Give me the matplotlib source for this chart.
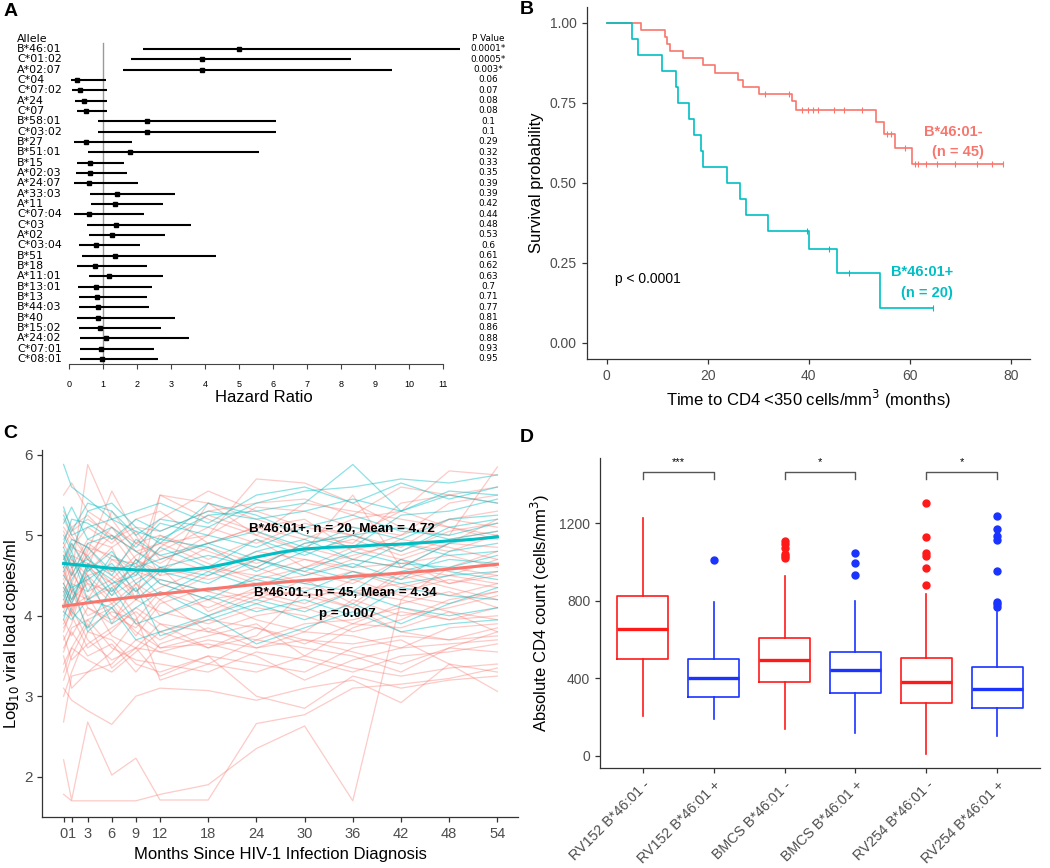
import matplotlib
matplotlib.use("Agg")
import matplotlib.pyplot as plt
import numpy as np

plt.rcParams['font.family'] = ['Liberation Sans', 'DejaVu Sans']

W, H = 1050, 868
RED_GG = "#F8766D"
TEAL_GG = "#00BFC4"
AX_COL = "#333333"
TICK_TXT = "#4D4D4D"

# ---------------- panel A: hazard ratios ----------------
alleles = ["B*46:01", "C*01:02", "A*02:07", "C*04", "C*07:02", "A*24", "C*07",
           "B*58:01", "C*03:02", "B*27", "B*51:01", "B*15", "A*02:03", "A*24:07",
           "A*33:03", "A*11", "C*07:04", "C*03", "A*02", "C*03:04", "B*51", "B*18",
           "A*11:01", "B*13:01", "B*13", "B*44:03", "B*40", "B*15:02", "A*24:02",
           "C*07:01", "C*08:01"]
hr = [5.01, 3.90, 3.90, 0.24, 0.32, 0.44, 0.51, 2.29, 2.29, 0.51, 1.80, 0.63, 0.62,
      0.58, 1.41, 1.34, 0.60, 1.39, 1.27, 0.78, 1.34, 0.75, 1.19, 0.80, 0.82, 0.86,
      0.86, 0.90, 1.10, 0.95, 0.96]
ci_lo = [2.19, 1.81, 1.60, 0.05, 0.08, 0.17, 0.23, 0.84, 0.84, 0.14, 0.55, 0.24, 0.22,
         0.16, 0.63, 0.65, 0.16, 0.54, 0.58, 0.28, 0.39, 0.24, 0.58, 0.25, 0.28, 0.30,
         0.24, 0.30, 0.32, 0.33, 0.33]
ci_hi = [11.5, 8.30, 9.50, 1.09, 1.12, 1.12, 1.12, 6.10, 6.10, 1.84, 5.60, 1.61, 1.70,
         2.04, 3.12, 2.76, 2.21, 3.58, 2.81, 2.10, 4.33, 2.29, 2.75, 2.44, 2.29, 2.35,
         3.12, 2.72, 3.52, 2.49, 2.62]
p_vals = ["0.0001*", "0.0005*", "0.003*", "0.06", "0.07", "0.08", "0.08", "0.1", "0.1",
          "0.29", "0.32", "0.33", "0.35", "0.39", "0.39", "0.42", "0.44", "0.48", "0.53",
          "0.6", "0.61", "0.62", "0.63", "0.7", "0.71", "0.77", "0.81", "0.86", "0.88",
          "0.93", "0.95"]
hr_ticks = list(range(0, 12))

# ---------------- panel B: Kaplan-Meier ----------------
neg_times = [0, 6.7, 11.5, 11.9, 12.5, 15.2, 19.1, 21.5, 25.9, 27.0, 30.2, 36.6, 37.4,
             53.3, 54.8, 57.1, 60.5]
neg_surv = [1.0, 0.978, 0.956, 0.933, 0.911, 0.889, 0.867, 0.844, 0.822, 0.800, 0.778,
            0.755, 0.729, 0.690, 0.652, 0.609, 0.558]
neg_end = 78.5
neg_censor = [31.3, 36.0, 38.6, 39.8, 40.8, 41.8, 44.9, 46.9, 50.5, 55.4, 56.3, 59.1,
              61.0, 61.7, 63.2, 65.3, 69.0, 73.3, 76.2, 78.5]
pos_times = [0, 4.95, 6.1, 10.9, 13.7, 14.2, 16.2, 17.2, 18.7, 19.1, 23.8, 26.4, 27.5,
             31.9, 40.0, 45.5, 54.1]
pos_surv = [1.0, 0.95, 0.90, 0.85, 0.80, 0.75, 0.70, 0.65, 0.60, 0.55, 0.50, 0.45, 0.40,
            0.35, 0.292, 0.219, 0.109]
pos_end = 64.5
pos_censor = [39.6, 44.1, 48.0, 64.5]

# ---------------- panel C: viral load trajectories ----------------
months = [0, 1, 3, 6, 9, 12, 18, 24, 30, 36, 42, 48, 54]
vl_neg = [
    [1.78, 1.70, 1.70, 1.70, 1.70, 1.78, 1.90, 2.35, 2.63, 1.70, 4.20, 4.05, 3.80],
    [2.21, 1.71, 2.68, 2.02, 2.23, 1.71, 1.71, 2.66, 2.77, 3.10, 3.15, 3.22, 3.35],
    [2.68, 3.25, 3.30, 3.55, 3.95, 3.60, 3.75, 3.90, 3.50, 3.85, 4.05, 3.95, 4.10],
    [3.10, 2.95, 2.82, 2.65, 3.00, 3.10, 3.07, 2.95, 3.10, 3.20, 2.92, 3.40, 3.06],
    [3.20, 3.50, 3.90, 3.35, 3.60, 3.25, 3.50, 3.00, 2.85, 3.25, 3.10, 3.20, 3.25],
    [5.50, 5.65, 5.30, 5.10, 4.90, 5.20, 5.55, 5.30, 5.10, 5.00, 5.30, 5.80, 5.75],
    [4.30, 4.50, 5.88, 5.20, 4.80, 4.90, 5.00, 5.70, 5.65, 5.40, 5.10, 5.00, 5.85],
    [4.90, 4.70, 4.50, 4.60, 4.20, 5.50, 5.40, 5.20, 5.00, 4.90, 5.40, 5.50, 5.60],
    [4.20, 4.00, 3.60, 3.80, 4.10, 3.90, 3.60, 3.75, 4.30, 4.10, 3.80, 3.70, 3.85],
    [4.60, 4.30, 4.80, 5.55, 5.00, 4.50, 5.40, 5.00, 4.80, 5.50, 4.60, 4.90, 5.20],
    [3.70, 3.90, 4.60, 4.40, 4.00, 3.20, 3.40, 3.70, 3.60, 3.50, 3.30, 3.60, 3.80],
    [4.00, 4.20, 4.40, 4.30, 4.70, 4.50, 4.60, 4.40, 4.50, 4.70, 4.60, 4.50, 4.40],
    [4.80, 4.60, 4.95, 4.85, 5.05, 4.70, 4.90, 5.10, 5.20, 4.80, 5.00, 5.20, 5.30],
    [3.90, 4.10, 3.70, 3.45, 3.60, 3.55, 3.70, 3.60, 3.70, 3.65, 3.75, 3.70, 3.75],
    [5.20, 5.00, 4.70, 5.00, 4.60, 5.50, 5.20, 5.00, 5.40, 5.30, 5.20, 5.10, 5.00],
    [4.40, 4.60, 4.10, 3.90, 4.40, 4.20, 3.80, 4.00, 4.10, 4.30, 4.20, 4.60, 4.50],
    [3.40, 3.60, 3.95, 4.10, 3.80, 3.60, 3.65, 3.50, 3.20, 3.45, 3.60, 3.65, 3.70],
    [4.70, 4.90, 4.60, 5.30, 4.90, 5.00, 4.70, 4.95, 4.60, 4.75, 4.90, 4.80, 5.00],
    [4.10, 4.40, 4.85, 4.50, 4.30, 4.60, 4.45, 4.60, 4.40, 4.55, 4.35, 4.50, 4.70],
    [4.55, 4.30, 4.20, 4.70, 4.65, 4.40, 4.20, 4.30, 4.25, 4.10, 4.50, 4.35, 4.20],
    [3.00, 3.30, 3.80, 3.70, 3.40, 3.30, 3.50, 3.40, 3.30, 3.60, 3.70, 3.40, 3.30],
    [4.95, 5.10, 4.70, 4.40, 4.60, 4.80, 5.10, 4.90, 5.15, 5.00, 4.85, 5.20, 5.10],
    [4.25, 4.00, 4.50, 4.20, 3.90, 3.70, 4.00, 4.25, 4.10, 3.90, 4.15, 4.30, 4.10],
    [3.60, 3.80, 3.50, 3.65, 3.30, 3.65, 3.85, 3.60, 3.80, 3.75, 3.60, 3.85, 3.90],
    [5.05, 4.85, 5.10, 4.90, 5.20, 5.30, 4.90, 5.10, 4.95, 5.20, 5.30, 5.10, 4.95],
    [4.45, 4.70, 4.40, 4.00, 3.85, 4.20, 4.50, 4.70, 4.55, 4.40, 4.70, 4.90, 4.85],
    [3.80, 4.10, 4.25, 3.75, 3.60, 3.90, 3.80, 3.70, 3.90, 3.95, 4.10, 3.95, 4.00],
    [4.65, 4.50, 4.90, 4.70, 4.50, 5.00, 4.80, 4.60, 4.90, 5.00, 4.80, 5.05, 5.15],
    [4.15, 4.35, 4.00, 4.15, 4.40, 4.00, 4.20, 3.95, 3.80, 4.20, 4.00, 4.10, 4.25],
    [3.50, 3.10, 3.30, 3.40, 3.70, 3.55, 3.40, 3.30, 3.50, 3.35, 3.25, 3.35, 3.40],
    [4.85, 5.05, 5.20, 5.00, 4.80, 4.65, 5.00, 5.35, 5.30, 5.10, 5.00, 5.40, 5.50],
    [4.35, 4.15, 4.55, 4.85, 4.20, 4.35, 4.60, 4.50, 4.70, 4.55, 4.45, 4.60, 4.80],
    [3.95, 3.75, 4.10, 3.95, 4.20, 4.05, 3.90, 4.10, 4.00, 3.80, 3.95, 4.20, 4.30],
    [5.30, 5.10, 5.25, 4.95, 5.10, 5.05, 5.30, 5.40, 5.45, 5.25, 5.60, 5.50, 5.40],
    [4.50, 4.75, 4.65, 4.55, 4.90, 4.75, 4.55, 4.80, 4.70, 4.60, 4.65, 4.75, 4.60],
    [3.30, 3.60, 3.45, 3.30, 3.55, 3.80, 3.60, 3.85, 3.70, 3.55, 3.40, 3.60, 3.55],
    [4.75, 4.40, 4.30, 4.45, 4.75, 4.90, 4.65, 4.45, 4.60, 4.85, 4.70, 4.40, 4.55],
    [4.05, 4.30, 3.85, 4.05, 3.95, 4.30, 4.10, 4.35, 4.25, 4.30, 4.40, 4.25, 4.40],
    [3.75, 3.45, 3.65, 3.85, 4.05, 3.80, 3.95, 3.85, 3.65, 3.90, 3.85, 4.05, 3.95],
    [4.60, 4.85, 4.75, 5.10, 4.70, 4.55, 4.85, 4.65, 4.85, 4.70, 4.95, 4.85, 4.70],
    [4.25, 4.55, 4.20, 4.35, 4.55, 4.45, 4.30, 4.15, 4.35, 4.25, 4.30, 4.45, 4.35],
    [3.85, 4.05, 4.45, 4.15, 3.75, 4.15, 4.35, 4.20, 4.45, 4.15, 4.55, 4.40, 4.50],
    [5.10, 4.95, 4.85, 4.75, 4.55, 4.85, 5.25, 5.05, 4.80, 4.95, 4.75, 4.95, 5.05],
    [4.40, 4.20, 4.65, 4.25, 4.45, 4.60, 4.05, 4.30, 4.15, 4.45, 4.25, 4.15, 4.30],
    [3.55, 3.85, 3.95, 3.60, 3.45, 3.40, 3.30, 3.55, 3.45, 3.30, 3.50, 3.55, 3.65],
]
vl_pos = [
    [5.88, 5.60, 5.45, 5.20, 5.05, 4.95, 5.25, 5.30, 5.40, 5.88, 5.30, 5.50, 5.40],
    [5.35, 5.05, 5.40, 5.30, 5.00, 5.20, 5.10, 5.40, 5.55, 5.60, 5.70, 5.65, 5.75],
    [4.65, 4.90, 4.55, 4.80, 4.40, 4.60, 4.75, 4.60, 4.90, 5.00, 4.80, 5.10, 5.20],
    [4.10, 4.40, 3.80, 4.10, 3.70, 3.80, 4.00, 3.65, 3.85, 4.05, 3.80, 3.90, 3.95],
    [4.90, 5.20, 5.15, 4.95, 5.20, 5.05, 5.30, 5.20, 5.30, 5.45, 5.30, 5.55, 5.50],
    [4.40, 4.20, 4.60, 4.25, 4.70, 4.40, 4.20, 4.50, 4.40, 4.30, 4.70, 4.55, 4.45],
    [4.75, 4.50, 4.90, 5.00, 4.80, 4.60, 4.50, 4.80, 4.95, 4.70, 4.60, 4.90, 5.00],
    [3.95, 4.30, 4.50, 3.90, 4.10, 4.30, 4.00, 4.20, 4.05, 4.30, 4.10, 4.00, 4.10],
    [5.00, 4.80, 5.30, 5.40, 5.10, 4.90, 5.40, 5.25, 5.00, 4.85, 5.25, 5.30, 5.45],
    [4.55, 4.75, 4.20, 4.40, 4.50, 4.85, 4.60, 4.95, 4.75, 5.00, 5.10, 4.95, 5.05],
    [4.30, 4.05, 3.85, 4.35, 3.90, 4.00, 4.25, 4.05, 4.20, 4.00, 4.35, 4.25, 4.20],
    [4.85, 4.60, 4.70, 4.50, 4.95, 4.75, 4.90, 5.05, 4.85, 5.10, 4.95, 5.20, 5.25],
    [4.20, 4.45, 4.75, 4.30, 4.55, 4.25, 4.55, 4.35, 4.60, 4.45, 4.55, 4.70, 4.65],
    [5.15, 5.35, 4.95, 5.10, 4.85, 5.15, 5.00, 4.85, 5.10, 5.25, 5.05, 5.00, 5.15],
    [4.50, 4.35, 4.45, 4.65, 4.30, 4.55, 4.40, 4.70, 4.50, 4.65, 4.45, 4.80, 4.90],
    [4.70, 4.95, 4.85, 4.55, 4.65, 4.95, 4.85, 4.55, 4.80, 4.60, 4.90, 4.75, 4.80],
    [4.05, 3.95, 4.20, 4.10, 4.35, 3.75, 3.95, 4.15, 3.95, 4.15, 3.90, 4.15, 4.35],
    [5.25, 5.00, 5.10, 5.20, 5.30, 5.40, 5.15, 5.50, 5.60, 5.40, 5.65, 5.45, 5.60],
    [4.60, 4.80, 4.30, 4.75, 4.60, 4.70, 4.90, 4.70, 4.55, 4.80, 4.65, 4.60, 4.75],
    [4.35, 4.15, 4.65, 4.45, 4.20, 4.45, 4.30, 4.45, 4.30, 4.55, 4.40, 4.50, 4.55],
]
fit_pos_months = [0, 3, 6, 9, 12, 15, 18, 21, 24, 27, 30, 33, 36, 39, 42, 45, 48, 51, 54]
fit_pos = [4.65, 4.62, 4.59, 4.57, 4.56, 4.57, 4.60, 4.66, 4.73, 4.79, 4.83, 4.85, 4.86,
           4.88, 4.89, 4.91, 4.93, 4.95, 4.98]
fit_neg_months = [0, 6, 12, 18, 24, 30, 36, 42, 48, 54]
fit_neg = [4.12, 4.20, 4.27, 4.33, 4.39, 4.44, 4.49, 4.53, 4.58, 4.64]

# ---------------- panel D: CD4 boxplots ----------------
cd4_groups = ["RV152 B*46:01 -", "RV152 B*46:01 +", "BMCS B*46:01 -",
              "BMCS B*46:01 +", "RV254 B*46:01 -", "RV254 B*46:01 +"]
cd4_whislo = [205, 188, 136, 119, 9, 102]
cd4_q1 = [497, 301, 382, 322, 274, 244]
cd4_med = [652, 399, 494, 441, 380, 346]
cd4_q3 = [826, 499, 609, 534, 506, 456]
cd4_whishi = [1229, 792, 930, 801, 835, 740]
cd4_fliers = [[], [1011], [1108, 1095, 1075, 1040, 1030, 1022], [1045, 995, 935],
              [1303, 1128, 1045, 1033, 971, 880],
              [1238, 1171, 1135, 1114, 956, 795, 783, 770]]
sig_pairs = [(1, 2), (3, 4), (5, 6)]
sig_labels = ["***", "*", "*"]


def px_axes(left, top, right, bottom):
    return fig.add_axes([left / W, 1 - bottom / H, (right - left) / W, (bottom - top) / H])


def gg_axes(ax):
    for s in ["top", "right"]:
        ax.spines[s].set_visible(False)
    for s in ["left", "bottom"]:
        ax.spines[s].set_color(AX_COL)
        ax.spines[s].set_linewidth(0.9)
    ax.tick_params(colors=AX_COL, labelcolor=TICK_TXT, labelsize=10, length=3.5, width=0.9)


fig = plt.figure(figsize=(W / 100, H / 100), dpi=100)

# ---- A ----
axA = px_axes(69, 33.5, 69 + 11.6 * 34, 364)
ypos = np.arange(len(alleles))
axA.plot([1, 1], [-0.6, len(alleles) - 0.5], color="#9a9a9a", lw=1.0)
for i in range(len(alleles)):
    axA.plot([ci_lo[i], ci_hi[i]], [i, i], color="black", lw=1.5, solid_capstyle="butt")
axA.plot(hr, ypos, "s", color="black", ms=2.6)
axA.set_xlim(0, 11.6)
axA.set_ylim(len(alleles) - 0.5, -1.5)
for s in ["top", "right", "left"]:
    axA.spines[s].set_visible(False)
axA.spines["bottom"].set_bounds(0, 11)
axA.spines["bottom"].set_color("#444444")
axA.set_yticks([])
axA.set_xticks(hr_ticks)
axA.tick_params(axis="x", labelsize=6.5, length=3.8, pad=8, color="#444444")
lab_x = (17 - 69) / 34
pv_x = (488 - 69) / 34
dv = ["DejaVu Sans"]
axA.text(lab_x, -1, "Allele", ha="left", va="center", fontsize=7.9, family=dv,
         clip_on=False)
axA.text(pv_x, -1, "P Value", ha="center", va="center", fontsize=6.4, family=dv,
         clip_on=False)
for i, (a, p) in enumerate(zip(alleles, p_vals)):
    axA.text(lab_x, i, a, ha="left", va="center", fontsize=7.9, family=dv, clip_on=False)
    axA.text(pv_x, i, p, ha="center", va="center", fontsize=6.4, family=dv, clip_on=False)
fig.text(264 / W, 1 - 397 / H, "Hazard Ratio", ha="center", va="center", fontsize=12)

# ---- B ----
axB = px_axes(586.7, 6.7, 1030, 359)
for times, surv, end, cens, col in [(neg_times, neg_surv, neg_end, neg_censor, RED_GG),
                                     (pos_times, pos_surv, pos_end, pos_censor, TEAL_GG)]:
    axB.step(times + [end], surv + [surv[-1]], where="post", color=col, lw=1.2)
    cs = [surv[np.searchsorted(times, c, side="right") - 1] for c in cens]
    axB.plot(cens, cs, "|", color=col, ms=4, mew=0.8)
axB.set_xlim(-3.96, 83.8)
axB.set_ylim(-0.05, 1.05)
axB.set_xticks([0, 20, 40, 60, 80])
axB.set_yticks([0, 0.25, 0.5, 0.75, 1.0])
axB.set_yticklabels(["0.00", "0.25", "0.50", "0.75", "1.00"])
gg_axes(axB)
axB.set_ylabel("Survival probability", fontsize=12, labelpad=4)
axB.set_xlabel("Time to CD4 <350 cells/mm$^3$ (months)", fontsize=12, labelpad=4)
axB.text(74.5, 0.66, "B*46:01-", color=RED_GG, fontsize=10.5, fontweight="bold",
         ha="right", va="center")
axB.text(74.6, 0.596, "(n = 45)", color=RED_GG, fontsize=10.5, fontweight="bold",
         ha="right", va="center")
axB.text(68.6, 0.221, "B*46:01+", color=TEAL_GG, fontsize=10.5, fontweight="bold",
         ha="right", va="center")
axB.text(68.5, 0.155, "(n = 20)", color=TEAL_GG, fontsize=10.5, fontweight="bold",
         ha="right", va="center")
axB.text(1.6, 0.199, "p < 0.0001", fontsize=10, ha="left", va="center")

# ---- C ----
axC = px_axes(42.3, 450, 518.3, 817.3)
for row in vl_neg:
    axC.plot(months, row, color=RED_GG, lw=0.9, alpha=0.38)
for row in vl_pos:
    axC.plot(months, row, color=TEAL_GG, lw=0.9, alpha=0.45)
axC.plot(fit_neg_months, fit_neg, color=RED_GG, lw=2.2)
axC.plot(fit_pos_months, fit_pos, color=TEAL_GG, lw=2.2)
axC.set_xlim(-2.65, 56.6)
axC.set_ylim(1.495, 6.06)
axC.set_xticks(months)
axC.set_xticklabels(["0", "1", "3", "6", "9", "12", "18", "24", "30", "36", "42", "48", "54"])
axC.set_yticks([2, 3, 4, 5, 6])
gg_axes(axC)
axC.tick_params(axis="x", labelsize=10.5)
axC.tick_params(axis="y", labelsize=11)
axC.set_ylabel("Log$_{10}$ viral load copies/ml", fontsize=12)
axC.yaxis.set_label_coords(-0.044, 0.5)
axC.set_xlabel("Months Since HIV-1 Infection Diagnosis", fontsize=12, labelpad=4)
axC.text(34.7, 5.08, "B*46:01+, n = 20, Mean = 4.72", fontsize=9.6, fontweight="bold",
         ha="center", va="center")
axC.text(35.1, 4.28, "B*46:01-, n = 45, Mean = 4.34", fontsize=9.6, fontweight="bold",
         ha="center", va="center")
axC.text(35.3, 4.02, "p = 0.007", fontsize=9.6, fontweight="bold", ha="center", va="center")

# ---- D ----
axD = px_axes(600, 458.3, 1040, 768.3)
stats = []
for i in range(len(cd4_groups)):
    stats.append(dict(label=cd4_groups[i], whislo=cd4_whislo[i], q1=cd4_q1[i],
                      med=cd4_med[i], q3=cd4_q3[i], whishi=cd4_whishi[i],
                      fliers=cd4_fliers[i]))
box_cols = ["#FF1A1A", "#1A33FF"] * 3
positions = np.arange(1, len(cd4_groups) + 1)
for i, st in enumerate(stats):
    c = box_cols[i]
    axD.bxp([st], positions=[positions[i]], widths=0.72, showcaps=False,
            boxprops=dict(color=c, lw=1.2),
            whiskerprops=dict(color=c, lw=1.2),
            medianprops=dict(color=c, lw=2.4),
            flierprops=dict(marker="o", markerfacecolor=c, markeredgecolor=c, ms=5))
for (a, b), lab in zip(sig_pairs, sig_labels):
    axD.plot([a, a, b, b], [1429, 1467, 1467, 1429], color="#555555", lw=1.0)
    axD.text((a + b) / 2, 1515, lab, ha="center", va="center", fontsize=8)
axD.set_xlim(0.4, 6.6)
axD.set_ylim(-65, 1536)
axD.set_yticks([0, 400, 800, 1200])
axD.set_xticks(positions)
axD.set_xticklabels(cd4_groups, rotation=45, ha="right", rotation_mode="anchor")
gg_axes(axD)
axD.tick_params(axis="x", labelsize=10.3)
axD.set_ylabel("Absolute CD4 count (cells/mm$^3$)", fontsize=12, labelpad=5)

# panel letters
for ch, x, y in [("A", 11, 11), ("B", 527, 9), ("C", 10, 434), ("D", 527, 437)]:
    fig.text(x / W, 1 - y / H, ch, fontsize=14, fontweight="bold", ha="center", va="center")

fig.savefig("out.png", dpi=100)
